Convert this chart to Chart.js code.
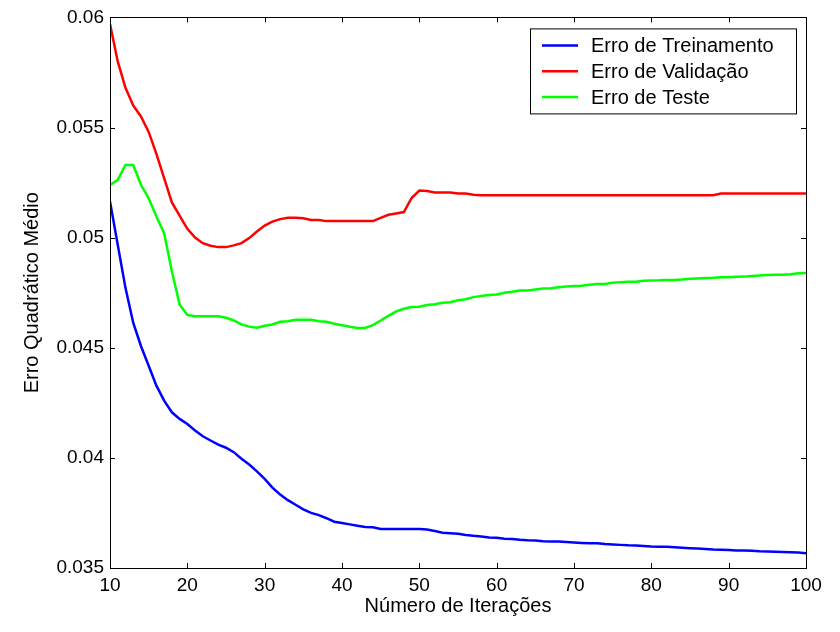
<!DOCTYPE html>
<html>
<head>
<meta charset="utf-8">
<script src="https://cdn.jsdelivr.net/npm/chart.js@4.4.1/dist/chart.umd.min.js"></script>
<style>
  html, body { margin: 0; padding: 0; background: #fff; }
  #wrap { width: 840px; height: 632px; }
</style>
</head>
<body>
<div id="wrap"><canvas id="errChart" width="840" height="632"></canvas></div>
<script>
const iteracoes = [];
for (let i = 10; i <= 100; i++) iteracoes.push(i);

const erroTreinamento = [
  0.05164, 0.04968, 0.04772, 0.04614, 0.04508, 0.04418, 0.04328, 0.0426, 0.04207, 0.04177,
  0.04154, 0.04124, 0.04098, 0.04079, 0.0406, 0.04046, 0.04026, 0.03996, 0.0397, 0.03939,
  0.03905, 0.03865, 0.03834, 0.03808, 0.03787, 0.03766, 0.0375, 0.0374, 0.03726, 0.0371,
  0.03704, 0.03698, 0.03692, 0.03686, 0.03685, 0.03677, 0.03677, 0.03677, 0.03677, 0.03677,
  0.03677, 0.03675, 0.03668, 0.0366, 0.03658, 0.03655, 0.0365, 0.03646, 0.03643, 0.03638,
  0.03637, 0.03633, 0.03632, 0.03628, 0.03626, 0.03625, 0.03622, 0.0362, 0.0362, 0.03618,
  0.03616, 0.03614, 0.03612, 0.03612, 0.03609, 0.03607, 0.03605, 0.03603, 0.03602, 0.036,
  0.03598, 0.03597, 0.03596, 0.03594, 0.03592, 0.0359, 0.03588, 0.03586, 0.03584, 0.03583,
  0.03582, 0.0358, 0.03579, 0.03578, 0.03576, 0.03575, 0.03574, 0.03573, 0.03572, 0.0357,
  0.03567
];

const erroValidacao = [
  0.0597, 0.0580, 0.0568, 0.0560, 0.0555, 0.0548, 0.0538, 0.0527, 0.0516, 0.0510,
  0.0504, 0.0500, 0.04975, 0.04963, 0.04957, 0.04957, 0.04965, 0.04975, 0.04998, 0.05028,
  0.05055, 0.05073, 0.05084, 0.0509, 0.0509, 0.05088, 0.0508, 0.0508, 0.05075, 0.05075,
  0.05075, 0.05075, 0.05075, 0.05075, 0.05075, 0.0509, 0.05104, 0.0511, 0.05116, 0.0518,
  0.05214, 0.05212, 0.05205, 0.05205, 0.05205, 0.052, 0.052, 0.05195, 0.05193, 0.05193,
  0.05193, 0.05193, 0.05193, 0.05193, 0.05193, 0.05193, 0.05193, 0.05193, 0.05193, 0.05193,
  0.05193, 0.05193, 0.05193, 0.05193, 0.05193, 0.05193, 0.05193, 0.05193, 0.05193, 0.05193,
  0.05193, 0.05193, 0.05193, 0.05193, 0.05193, 0.05193, 0.05193, 0.05193, 0.05193, 0.052,
  0.052, 0.052, 0.052, 0.052, 0.052, 0.052, 0.052, 0.052, 0.052, 0.052,
  0.052
];

const erroTeste = [
  0.05239, 0.05262, 0.0533, 0.0533, 0.0524, 0.05179, 0.05096, 0.0502, 0.04847, 0.04697,
  0.04649, 0.04643, 0.04643, 0.04643, 0.04643, 0.04636, 0.04624, 0.04606, 0.04596, 0.04591,
  0.046, 0.04606, 0.04618, 0.0462, 0.04627, 0.04627, 0.04627, 0.0462, 0.04618, 0.04609,
  0.04602, 0.04595, 0.0459, 0.0459, 0.04603, 0.04624, 0.04645, 0.04665, 0.04677, 0.04685,
  0.04686, 0.04694, 0.04698, 0.04704, 0.04707, 0.04716, 0.0472, 0.0473, 0.04735, 0.0474,
  0.04742, 0.0475, 0.04754, 0.0476, 0.0476, 0.04765, 0.04769, 0.0477, 0.04775, 0.04778,
  0.0478, 0.04782, 0.04786, 0.0479, 0.0479, 0.04795, 0.04798, 0.048, 0.048, 0.04804,
  0.04805, 0.04806, 0.04808, 0.04808, 0.0481, 0.04813, 0.04815, 0.04817, 0.04818, 0.0482,
  0.0482, 0.04822, 0.04823, 0.04826, 0.04828, 0.0483, 0.04831, 0.04832, 0.04834, 0.04838,
  0.0484
];

const xTicks = [10, 20, 30, 40, 50, 60, 70, 80, 90, 100];
const yTicks = [0.035, 0.04, 0.045, 0.05, 0.055, 0.06];

const FONT = "'Liberation Sans', Arial, sans-serif";

function pontos(ys) {
  return iteracoes.map((x, i) => ({ x: x, y: ys[i] }));
}

// box around the axes with short inward ticks on all four sides
const moldura = {
  id: 'moldura',
  afterDraw(chart) {
    const c = chart.ctx;
    const a = chart.chartArea;
    const xs = chart.scales.x, ys = chart.scales.y;
    const len = 5;
    c.save();
    c.strokeStyle = '#000';
    c.lineWidth = 1;
    c.beginPath();
    xTicks.forEach(v => {
      const px = Math.round(xs.getPixelForValue(v)) + 0.5;
      c.moveTo(px, a.bottom); c.lineTo(px, a.bottom - len);
      c.moveTo(px, a.top); c.lineTo(px, a.top + len);
    });
    yTicks.forEach(v => {
      const py = Math.round(ys.getPixelForValue(v)) + 0.5;
      c.moveTo(a.left, py); c.lineTo(a.left + len, py);
      c.moveTo(a.right, py); c.lineTo(a.right - len, py);
    });
    c.stroke();
    c.strokeRect(Math.round(a.left) + 0.5, Math.round(a.top) + 0.5,
      Math.round(a.right - a.left), Math.round(a.bottom - a.top));
    c.restore();
  }
};

// legend box in the upper right corner of the axes
const legenda = {
  id: 'legenda',
  afterDraw(chart) {
    const c = chart.ctx;
    const a = chart.chartArea;
    const x0 = a.right - 276, y0 = a.top + 11, w = 266, h = 85;
    c.save();
    c.fillStyle = '#fff';
    c.fillRect(x0, y0, w, h);
    c.strokeStyle = '#000';
    c.lineWidth = 1;
    c.strokeRect(x0 + 0.5, y0 + 0.5, w, h);
    c.font = '20px ' + FONT;
    c.textBaseline = 'middle';
    chart.data.datasets.forEach((ds, i) => {
      const yy = y0 + 17 + i * 25.8;
      c.strokeStyle = ds.borderColor;
      c.lineWidth = 2.5;
      c.beginPath();
      c.moveTo(x0 + 12, yy); c.lineTo(x0 + 48, yy);
      c.stroke();
      c.fillStyle = '#000';
      c.fillText(ds.label, x0 + 61, yy + 1);
    });
    c.restore();
  }
};

new Chart(document.getElementById('errChart'), {
  type: 'line',
  data: {
    datasets: [
      { label: 'Erro de Treinamento', data: pontos(erroTreinamento), borderColor: '#0000ff' },
      { label: 'Erro de Validação', data: pontos(erroValidacao), borderColor: '#ff0000' },
      { label: 'Erro de Teste', data: pontos(erroTeste), borderColor: '#00ff00' }
    ]
  },
  options: {
    responsive: false,
    animation: false,
    layout: { padding: { left: 0, top: 15, right: 34, bottom: 0 } },
    elements: {
      line: { borderWidth: 2.5, tension: 0, fill: false },
      point: { radius: 0 }
    },
    plugins: {
      legend: { display: false },
      tooltip: { enabled: false }
    },
    scales: {
      x: {
        type: 'linear',
        min: 10,
        max: 100,
        afterFit: s => { s.height = 64; },
        afterBuildTicks: s => { s.ticks = xTicks.map(v => ({ value: v })); },
        grid: { display: false, drawTicks: false },
        border: { display: false },
        ticks: { color: '#000', font: { family: FONT, size: 19 }, padding: 6, maxRotation: 0 },
        title: {
          display: true,
          text: 'Número de Iterações',
          color: '#000',
          font: { family: FONT, size: 20 },
          padding: { top: 0, bottom: 14 }
        }
      },
      y: {
        type: 'linear',
        min: 0.035,
        max: 0.06,
        afterFit: s => { s.width = 110; },
        afterBuildTicks: s => { s.ticks = yTicks.map(v => ({ value: v })); },
        grid: { display: false, drawTicks: false },
        border: { display: false },
        ticks: {
          color: '#000',
          font: { family: FONT, size: 19 },
          padding: 6,
          callback: v => String(Number(v.toFixed(3)))
        },
        title: {
          display: true,
          text: 'Erro Quadrático Médio',
          color: '#000',
          font: { family: FONT, size: 20 },
          padding: { top: 20, bottom: 0 }
        }
      }
    }
  },
  plugins: [moldura, legenda]
});
</script>
</body>
</html>
